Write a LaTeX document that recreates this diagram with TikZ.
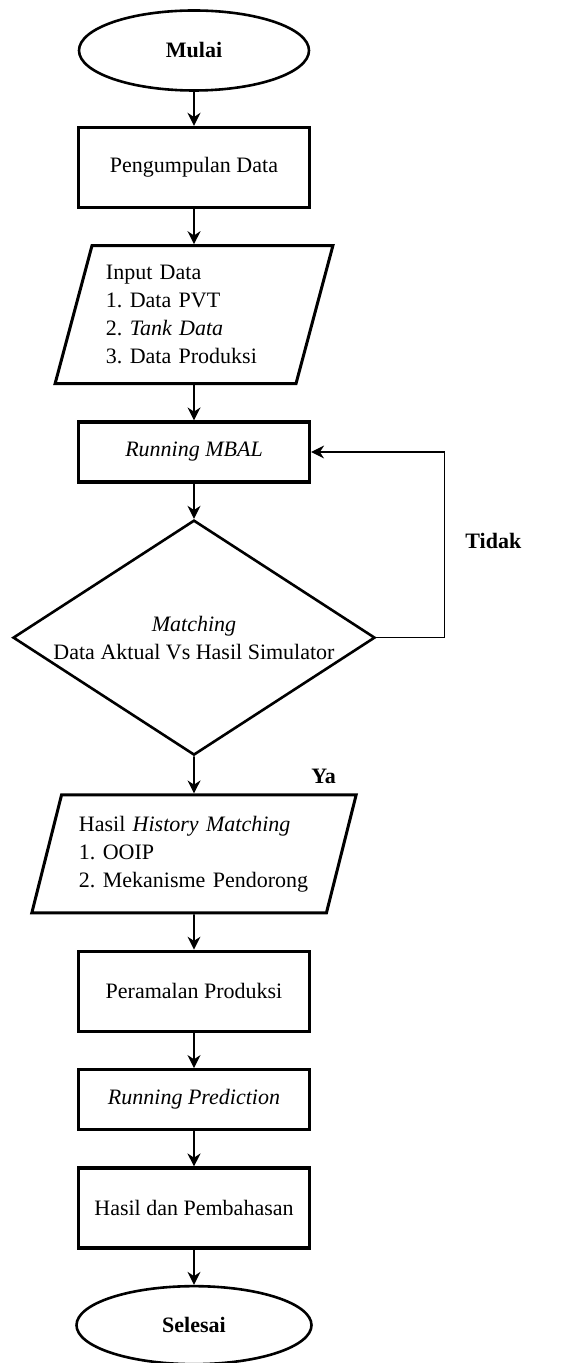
\documentclass[tikz,border=0pt]{standalone}
\usepackage{fontspec}
\setmainfont{Liberation Serif}
\usetikzlibrary{positioning,shapes.geometric,arrows.meta}
\frenchspacing

\begin{document}
\begin{tikzpicture}[
    font=\fontsize{11}{14}\selectfont,
    node distance=17.6pt,
    terminal/.style={draw, ellipse, line width=1.3pt, minimum width=115pt, minimum height=40pt,
        font=\fontsize{11}{14}\selectfont\bfseries},
    process/.style={draw, rectangle, line width=1.6pt, minimum width=115.5pt, minimum height=40pt},
    io/.style={draw, trapezium, trapezium left angle=73, trapezium right angle=107,
        trapezium stretches=true, line width=1.5pt, align=left},
    decision/.style={draw, diamond, line width=1.3pt, minimum width=181pt, minimum height=117.5pt,
        align=center, inner sep=0pt},
    flow/.style={line width=0.8pt, -{Stealth[length=6.5pt, width=6.5pt]}},
    answer/.style={font=\fontsize{11}{14}\selectfont\bfseries}
]
    \useasboundingbox (0,0) rectangle (290pt,-681.5pt);

    \node[terminal] (mulai) at (97pt,-25.25pt) {Mulai};
    \node[process, below=17pt of mulai] (pengumpulan) {Pengumpulan Data};
    \node[io, below=of pengumpulan, text width=88pt, minimum width=139pt, minimum height=69pt] (input)
        {Input Data\\1. Data PVT\\2. \textit{Tank Data}\\3. Data Produksi};
    \node[process, below=of input, minimum height=30pt] (mbal) {\textit{Running MBAL}};
    \node[decision, below=of mbal] (matching)
        {\makebox[0pt]{\textit{Matching}}\\\makebox[0pt]{Data Aktual Vs Hasil Simulator}};
    \node[io, below=18.5pt of matching, text width=115pt, minimum width=162.5pt, minimum height=59pt] (hasil)
        {Hasil \textit{History Matching}\\1. OOIP\\2. Mekanisme Pendorong};
    \node[process, below=of hasil] (peramalan) {Peramalan Produksi};
    \node[process, below=of peramalan, minimum height=30pt] (prediction) {\textit{Running Prediction}};
    \node[process, below=of prediction] (pembahasan) {Hasil dan Pembahasan};
    \node[terminal, below=of pembahasan, minimum width=117.5pt, minimum height=39pt] (selesai) {Selesai};

    \coordinate[right=66.5pt of mbal.east] (balik);

    \draw[flow] (mulai) -- (pengumpulan);
    \draw[flow] (pengumpulan) -- (input);
    \draw[flow] (input) -- (mbal);
    \draw[flow] (mbal) -- (matching);
    \draw[flow] (matching) -- node[pos=0.55, right=55pt, answer] {Ya} (hasil);
    \draw[flow, line width=0.6pt] (matching.east) -| node[pos=0.76, right=7pt, answer] {Tidak} (balik) -- (mbal.east);
    \draw[flow] (hasil) -- (peramalan);
    \draw[flow] (peramalan) -- (prediction);
    \draw[flow] (prediction) -- (pembahasan);
    \draw[flow] (pembahasan) -- (selesai);
\end{tikzpicture}
\end{document}
